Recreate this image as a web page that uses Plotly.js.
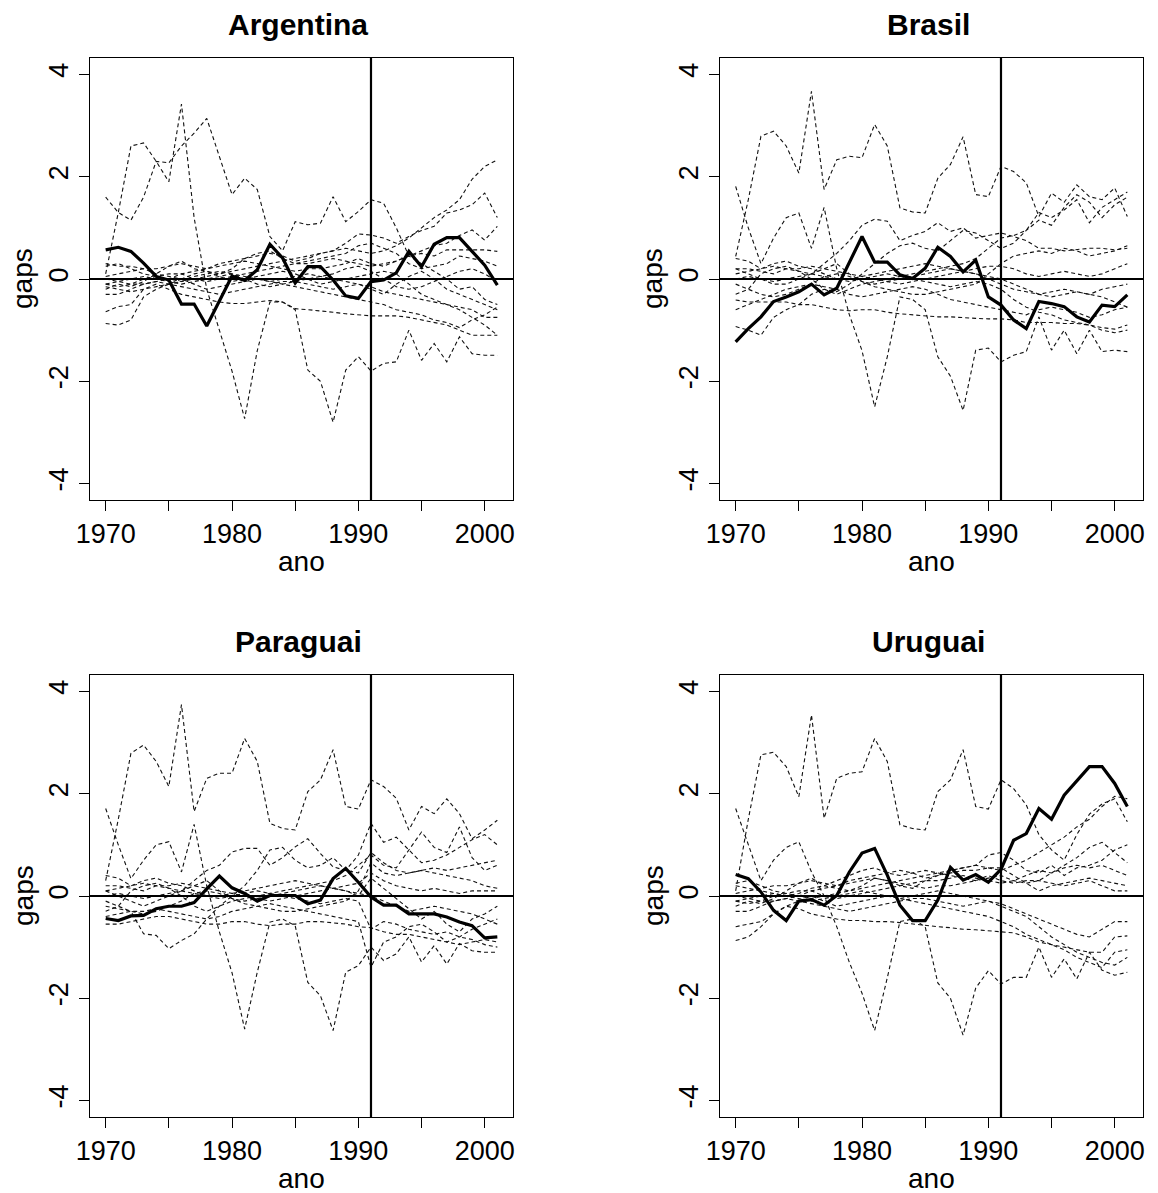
<!DOCTYPE html>
<html>
<head>
<meta charset="utf-8">
<script src="https://cdn.plot.ly/plotly-3.0.1.min.js"></script>
<style>html,body{margin:0;padding:0;background:#fff;}#chart{width:1158px;height:1193px;}</style>
</head>
<body>
<div id="chart"></div>
<script>
// ---------- DATA ----------
var years = [1970,1971,1972,1973,1974,1975,1976,1977,1978,1979,1980,1981,1982,1983,1984,1985,
             1986,1987,1988,1989,1990,1991,1992,1993,1994,1995,1996,1997,1998,1999,2000,2001];
var panelTitles = ["Argentina", "Brasil", "Paraguai", "Uruguai"];
var xTickVals = [1970,1975,1980,1985,1990,1995,2000];
var xTickText = ["1970","","1980","","1990","","2000"];
var yTickVals = [-4,-2,0,2,4];
var yTickText = ["-4","-2","0","2","4"];
var treatmentYear = 1991;

var gapArgentina = [0.57,0.62,0.54,0.31,0.05,-0.02,-0.49,-0.49,-0.92,-0.44,0.06,-0.03,0.18,0.68,0.41,-0.08,
                    0.24,0.24,-0.02,-0.33,-0.38,-0.05,-0.02,0.12,0.54,0.24,0.68,0.81,0.81,0.54,0.27,-0.12];
var gapBrasil = [-1.23,-0.97,-0.74,-0.44,-0.35,-0.25,-0.1,-0.31,-0.18,0.31,0.83,0.33,0.33,0.08,0.01,0.21,
                 0.62,0.44,0.14,0.37,-0.35,-0.51,-0.8,-0.97,-0.44,-0.48,-0.54,-0.74,-0.84,-0.51,-0.54,-0.31];
var gapParaguai = [-0.44,-0.48,-0.39,-0.38,-0.25,-0.2,-0.2,-0.13,0.14,0.39,0.16,0.05,-0.1,0.01,0.01,0.01,
                   -0.15,-0.08,0.34,0.54,0.27,-0.02,-0.18,-0.18,-0.35,-0.35,-0.35,-0.41,-0.51,-0.58,-0.82,-0.8];
var gapUruguai = [0.42,0.34,0.08,-0.28,-0.48,-0.1,-0.07,-0.18,0.01,0.47,0.84,0.93,0.41,-0.18,-0.48,-0.48,
                  -0.08,0.56,0.31,0.42,0.27,0.52,1.09,1.22,1.71,1.5,1.97,2.24,2.53,2.53,2.2,1.75];

var placeboArgentina = [
 [0.1,1.3,2.6,2.66,2.3,1.9,3.42,1.2,-0.2,-1.0,-1.8,-2.73,-1.4,-0.45,-0.45,-0.6,-1.78,-2.0,-2.8,-1.78,-1.52,-1.8,-1.65,-1.62,-1.0,-1.59,-1.26,-1.62,-1.13,-1.46,-1.49,-1.49],
 [1.6,1.3,1.15,1.6,2.3,2.27,2.6,2.85,3.14,2.4,1.65,1.97,1.75,0.83,0.55,1.12,1.06,1.09,1.61,1.12,1.32,1.55,1.48,1.0,0.45,0.3,0.15,0.0,-0.2,-0.15,-0.4,-0.5],
 [0.25,0.3,0.2,0.1,0.05,0.0,-0.05,0.0,0.05,0.1,0.15,0.2,0.25,0.3,0.35,0.4,0.45,0.5,0.55,0.6,0.55,0.5,0.55,0.65,0.8,1.0,1.2,1.35,1.55,1.95,2.2,2.33],
 [0.0,-0.05,-0.1,-0.1,-0.05,0.0,0.1,0.15,0.2,0.3,0.35,0.4,0.45,0.5,0.45,0.35,0.4,0.5,0.55,0.7,0.88,0.86,0.8,0.7,0.83,0.95,1.03,1.29,1.35,1.45,1.68,1.2],
 [-0.1,-0.15,-0.1,0.0,0.05,0.1,0.1,0.0,-0.05,0.0,0.05,0.1,0.15,0.2,0.25,0.3,0.3,0.35,0.4,0.35,0.3,0.25,0.3,0.35,0.45,0.55,0.65,0.7,0.85,0.96,0.76,1.03],
 [0.05,0.1,0.15,0.2,0.2,0.25,0.3,0.25,0.2,0.25,0.3,0.35,0.3,0.25,0.2,0.15,0.2,0.2,0.25,0.3,0.4,0.3,0.25,0.35,0.45,0.5,0.45,0.57,0.57,0.57,0.57,0.54],
 [-0.64,-0.54,-0.5,-0.2,-0.1,-0.2,-0.3,-0.35,-0.4,-0.45,-0.48,-0.48,-0.45,-0.42,-0.45,-0.58,-0.6,-0.62,-0.65,-0.68,-0.7,-0.72,-0.72,-0.72,-0.75,-0.8,-0.85,-0.9,-1.0,-1.1,-1.1,-1.1],
 [-0.87,-0.9,-0.8,-0.35,-0.2,-0.1,0.0,-0.1,-0.2,-0.15,-0.1,-0.05,0.0,-0.05,-0.1,-0.15,-0.2,-0.25,-0.3,-0.35,-0.4,-0.45,-0.5,-0.6,-0.65,-0.7,-0.8,-0.85,-0.95,-0.8,-0.7,-0.55],
 [-0.3,-0.3,-0.2,-0.1,-0.05,-0.1,-0.15,-0.2,-0.25,-0.3,-0.25,-0.2,-0.15,-0.1,-0.05,-0.05,-0.1,-0.15,-0.2,-0.15,-0.1,-0.15,-0.25,-0.3,-0.35,-0.4,-0.45,-0.5,-0.55,-0.6,-0.75,-0.75],
 [-0.1,-0.05,0.0,0.05,0.0,-0.05,-0.1,-0.05,0.0,0.05,0.1,0.05,0.0,-0.05,0.0,0.05,0.1,0.05,0.0,-0.05,-0.1,-0.2,-0.3,-0.1,0.05,0.15,0.0,-0.2,-0.3,-0.4,-0.5,-0.6],
 [-0.2,-0.1,-0.15,-0.05,0.1,0.25,0.35,0.2,0.15,0.1,0.2,0.4,0.5,0.55,0.4,0.3,0.35,0.4,0.45,0.5,0.65,0.7,0.6,0.5,0.3,0.2,0.25,0.3,0.45,0.4,0.35,0.25],
 [0.3,0.25,0.25,0.2,0.1,0.05,0.0,0.1,0.15,0.05,-0.05,0.0,0.05,0.1,0.15,0.1,0.0,-0.1,-0.05,0.0,0.05,0.1,0.15,0.1,-0.1,-0.3,-0.4,-0.5,-0.6,-0.75,-0.9,-1.1],
 [-0.15,-0.2,-0.25,-0.2,-0.15,-0.1,-0.05,0.05,0.1,0.15,0.1,0.0,-0.1,-0.15,-0.1,-0.05,0.0,0.05,0.1,0.2,0.25,0.15,0.0,-0.15,-0.2,-0.15,-0.05,0.05,0.15,0.2,0.1,-0.05]
];
var placeboBrasil = [
 [0.44,1.55,2.79,2.89,2.6,2.07,3.67,1.75,2.33,2.4,2.37,3.02,2.6,1.39,1.31,1.29,1.97,2.24,2.78,1.65,1.61,2.2,2.1,1.88,1.22,1.68,1.5,1.84,1.61,1.55,1.78,1.22],
 [1.81,1.0,0.3,0.8,1.2,1.29,0.6,1.4,0.2,-0.7,-1.4,-2.5,-1.52,-0.35,-0.4,-0.6,-1.52,-1.9,-2.57,-1.39,-1.35,-1.62,-1.49,-1.42,-0.74,-1.39,-1.0,-1.46,-1.0,-1.42,-1.39,-1.42],
 [-0.93,-1.0,-1.1,-0.75,-0.6,-0.5,-0.3,-0.2,-0.25,-0.1,0.1,0.3,0.5,0.65,0.7,0.6,0.55,0.75,0.95,0.9,0.75,0.6,0.7,0.95,1.15,1.05,1.4,1.65,1.5,1.2,1.45,1.6],
 [0.2,0.1,0.0,-0.1,-0.1,0.0,0.1,0.3,0.5,0.75,1.05,1.17,1.13,0.75,0.85,0.93,1.1,0.93,1.0,0.8,0.85,0.9,0.83,0.75,0.6,0.6,0.55,0.57,0.6,0.6,0.57,0.6],
 [-0.3,-0.2,0.1,0.2,0.25,0.15,0.0,-0.2,-0.3,-0.2,-0.1,-0.05,0.0,0.05,0.1,0.15,0.2,0.25,0.3,0.4,0.6,0.8,0.85,0.95,1.3,1.2,1.35,1.55,1.1,1.4,1.55,1.7],
 [0.4,0.35,0.2,0.3,0.35,0.25,0.2,0.1,0.0,0.0,0.05,0.1,0.15,0.2,0.25,0.3,0.25,0.2,0.15,0.1,0.0,-0.1,-0.2,-0.25,-0.3,-0.35,-0.3,-0.25,-0.3,-0.2,-0.15,-0.1],
 [-0.41,-0.45,-0.45,-0.45,-0.45,-0.5,-0.5,-0.55,-0.6,-0.62,-0.6,-0.6,-0.65,-0.68,-0.7,-0.72,-0.74,-0.74,-0.76,-0.77,-0.78,-0.78,-0.8,-0.85,-0.85,-0.85,-0.87,-0.87,-0.9,-0.95,-0.98,-0.9],
 [0.1,0.15,0.2,0.25,0.2,0.15,0.1,0.2,0.3,0.1,-0.05,-0.1,-0.05,0.0,0.05,0.1,0.15,0.2,0.15,0.1,0.05,0.0,-0.1,-0.2,-0.3,-0.25,-0.2,-0.25,-0.3,-0.35,-0.45,-0.55],
 [-0.1,-0.2,-0.3,-0.35,-0.3,-0.2,-0.1,0.05,0.1,0.05,-0.05,-0.15,-0.2,-0.25,-0.3,-0.3,-0.25,-0.2,-0.15,-0.1,0.1,0.3,0.45,0.5,0.55,0.5,0.6,0.55,0.45,0.5,0.55,0.65],
 [0.0,0.05,0.0,-0.05,0.0,0.05,0.1,0.05,0.0,-0.05,0.0,0.05,0.1,0.05,0.0,-0.05,-0.1,-0.15,-0.1,-0.05,-0.1,-0.2,-0.4,-0.55,-0.65,-0.7,-0.8,-0.85,-0.9,-1.0,-1.05,-1.0],
 [0.2,0.2,0.15,0.1,0.2,0.2,0.25,0.2,0.15,0.1,0.05,0.0,-0.05,-0.1,-0.05,0.0,0.05,0.1,0.15,0.2,0.25,0.25,0.2,0.1,0.05,0.1,0.15,0.1,0.05,0.1,0.2,0.3],
 [-0.6,-0.5,-0.4,-0.3,-0.2,-0.15,-0.1,-0.15,-0.2,-0.3,-0.35,-0.3,-0.25,-0.2,-0.15,-0.2,-0.3,-0.4,-0.45,-0.5,-0.55,-0.6,-0.65,-0.7,-0.6,-0.55,-0.6,-0.65,-0.75,-0.7,-0.6,-0.55]
];
var placeboParaguai = [
 [0.3,1.5,2.79,2.95,2.63,2.14,3.74,1.65,2.3,2.4,2.4,3.08,2.63,1.42,1.32,1.29,2.04,2.27,2.86,1.75,1.7,2.27,2.14,1.91,1.29,1.75,1.61,1.9,1.61,1.12,1.29,1.48],
 [1.71,1.0,0.34,0.7,1.0,1.06,0.47,1.4,0.2,-0.7,-1.5,-2.6,-1.49,-0.51,-0.45,-0.58,-1.69,-1.95,-2.63,-1.49,-1.36,-1.0,-1.26,-1.13,-0.8,-1.29,-0.97,-1.33,-0.93,-1.07,-1.1,-1.1],
 [-0.2,-0.25,-0.3,-0.74,-0.77,-1.03,-0.87,-0.74,-0.45,-0.2,0.0,0.2,0.5,0.9,0.95,0.7,0.55,0.6,0.75,0.5,0.8,1.42,1.05,1.15,0.9,0.65,0.7,0.8,0.95,1.1,1.2,1.0],
 [0.1,0.0,-0.1,-0.2,-0.1,0.0,0.1,0.3,0.5,0.6,0.86,0.93,0.93,0.6,0.75,0.96,1.12,0.83,0.57,0.5,0.45,0.85,0.65,0.5,0.45,0.5,0.55,0.5,0.55,0.6,0.65,0.7],
 [-0.3,-0.2,0.1,0.2,0.25,0.15,0.0,-0.2,-0.3,-0.2,-0.1,-0.05,0.0,0.05,0.1,0.15,0.2,0.25,0.3,0.4,0.6,0.8,0.6,0.55,0.9,1.25,0.95,0.85,1.35,0.75,0.5,0.6],
 [0.4,0.35,0.2,0.3,0.35,0.25,0.2,0.1,0.0,0.0,0.05,0.1,0.15,0.2,0.25,0.3,0.25,0.2,0.15,0.1,0.0,0.35,0.15,-0.05,-0.25,-0.45,-0.3,-0.55,-0.7,-0.45,-0.35,-0.2],
 [-0.55,-0.55,-0.5,-0.45,-0.4,-0.4,-0.45,-0.5,-0.55,-0.55,-0.5,-0.5,-0.55,-0.58,-0.55,-0.55,-0.5,-0.5,-0.52,-0.55,-0.6,-0.62,-0.7,-0.75,-0.75,-0.8,-0.85,-0.9,-0.95,-0.9,-0.85,-0.9],
 [0.1,0.15,0.2,0.25,0.2,0.15,0.1,0.2,0.3,0.1,-0.05,-0.1,-0.05,0.0,0.05,0.1,0.15,0.2,0.15,0.1,0.05,0.0,-0.1,-0.2,-0.3,-0.25,-0.2,-0.25,-0.3,-0.35,-0.45,-0.55],
 [-0.1,-0.2,-0.3,-0.35,-0.3,-0.2,-0.1,0.05,0.1,0.05,-0.05,-0.15,-0.2,-0.25,-0.3,-0.3,-0.25,-0.2,-0.15,-0.1,0.1,0.65,0.45,0.4,0.45,0.5,0.45,0.4,0.35,0.3,0.2,0.15],
 [0.0,0.05,0.0,-0.05,0.0,0.05,0.1,0.05,0.0,-0.05,0.0,0.05,0.1,0.05,0.0,-0.05,-0.1,-0.15,-0.1,-0.05,-0.1,-0.65,-0.5,-0.55,-0.65,-0.7,-0.75,-0.7,-0.8,-0.85,-0.95,-1.0],
 [0.2,0.2,0.15,0.1,0.2,0.2,0.25,0.2,0.15,0.1,0.05,0.0,-0.05,-0.1,-0.05,0.0,0.05,0.1,0.15,0.2,0.25,0.45,0.3,0.2,0.15,0.1,0.15,0.1,0.05,0.1,0.1,0.1],
 [-0.4,-0.35,-0.3,-0.3,-0.25,-0.3,-0.35,-0.4,-0.45,-0.4,-0.3,-0.25,-0.2,-0.15,-0.2,-0.25,-0.3,-0.35,-0.4,-0.45,-0.5,-1.39,-0.9,-0.8,-0.6,-0.55,-0.7,-0.9,-0.8,-0.65,-0.55,-0.45]
];
var placeboUruguai = [
 [0.1,1.5,2.76,2.81,2.53,1.94,3.54,1.52,2.3,2.4,2.43,3.08,2.63,1.39,1.32,1.29,2.04,2.27,2.86,1.75,1.7,2.27,2.1,1.78,1.2,0.9,0.7,1.2,1.6,1.8,1.9,1.45],
 [1.71,1.0,0.3,0.7,0.95,1.06,0.47,0.0,-0.6,-1.3,-1.9,-2.63,-1.6,-0.5,-0.45,-0.6,-1.7,-2.0,-2.72,-1.8,-1.46,-1.72,-1.59,-1.59,-1.0,-1.59,-1.23,-1.62,-1.1,-1.45,-1.55,-1.49],
 [0.25,0.3,0.2,0.1,0.05,0.0,-0.05,0.0,0.05,0.1,0.15,0.2,0.25,0.3,0.35,0.4,0.45,0.5,0.55,0.6,0.55,0.5,0.6,0.7,0.85,1.0,1.15,1.35,1.5,1.75,1.95,1.9],
 [0.0,-0.05,-0.1,-0.1,-0.05,0.0,0.1,0.15,0.2,0.3,0.35,0.4,0.45,0.5,0.45,0.35,0.4,0.5,0.55,0.6,0.8,0.85,0.7,0.5,0.45,0.6,0.4,0.55,0.6,0.7,0.9,1.0],
 [-0.1,-0.15,-0.1,0.0,0.05,0.1,0.1,0.0,-0.05,0.0,0.05,0.1,0.15,0.2,0.25,0.3,0.3,0.35,0.4,0.35,0.3,0.25,0.3,0.4,0.5,0.45,0.55,0.6,0.55,0.6,0.5,0.4],
 [0.05,0.1,0.15,0.2,0.2,0.25,0.3,0.25,0.2,0.25,0.3,0.35,0.3,0.25,0.2,0.15,0.2,0.2,0.25,0.3,0.4,0.3,0.25,0.3,0.3,0.25,0.2,0.25,0.3,0.2,0.1,0.1],
 [-0.87,-0.8,-0.6,-0.35,-0.2,-0.25,-0.35,-0.4,-0.45,-0.48,-0.48,-0.5,-0.5,-0.52,-0.55,-0.58,-0.6,-0.62,-0.65,-0.66,-0.68,-0.7,-0.72,-0.8,-0.9,-0.95,-1.0,-1.05,-1.1,-1.1,-0.8,-0.78],
 [-0.6,-0.55,-0.5,-0.35,-0.2,-0.1,0.0,-0.1,-0.2,-0.15,-0.1,-0.05,0.0,-0.05,-0.1,-0.15,-0.2,-0.25,-0.3,-0.35,-0.4,-0.5,-0.6,-0.75,-0.85,-0.95,-1.05,-1.2,-1.3,-1.4,-1.1,-1.05],
 [-0.3,-0.3,-0.2,-0.1,-0.05,-0.1,-0.15,-0.2,-0.25,-0.3,-0.25,-0.2,-0.15,-0.1,-0.05,-0.05,-0.1,-0.15,-0.2,-0.15,-0.1,-0.15,-0.25,-0.35,-0.45,-0.55,-0.65,-0.75,-0.8,-0.65,-0.5,-0.5],
 [-0.1,-0.05,0.0,0.05,0.0,-0.05,-0.1,-0.05,0.0,0.05,0.1,0.05,0.0,-0.05,0.0,0.05,0.1,0.05,0.0,-0.05,-0.1,-0.2,-0.3,-0.4,-0.6,-0.8,-0.95,-1.1,-1.2,-1.3,-1.35,-1.2],
 [0.2,0.15,0.1,0.05,0.0,0.05,0.15,0.2,0.3,0.4,0.5,0.55,0.45,0.4,0.45,0.5,0.45,0.4,0.35,0.3,0.35,0.4,0.3,0.25,0.3,0.45,0.6,0.75,0.95,1.05,0.85,0.65],
 [-0.2,-0.1,-0.15,-0.05,0.1,0.25,0.35,0.2,0.15,0.1,0.2,0.35,0.3,0.2,0.15,0.3,0.4,0.45,0.5,0.5,0.55,0.55,0.4,0.25,0.1,0.2,0.25,0.3,0.35,0.3,0.25,0.2]
];

// ---------- BUILD ----------
var W = 1158, H = 1193;
var treated = [gapArgentina, gapBrasil, gapParaguai, gapUruguai];
var placebos = [placeboArgentina, placeboBrasil, placeboParaguai, placeboUruguai];
// plot boxes in pixels: [left, right, top, bottom]
var boxes = [[90,513,58,500],[720,1143,58,500],[90,513,675,1117],[720,1143,675,1117]];
var FONT = "Liberation Sans, Arial, Helvetica, sans-serif";

var traces = [];
var layout = {
  width: W, height: H, margin: {l:0,r:0,t:0,b:0},
  paper_bgcolor: "#ffffff", plot_bgcolor: "#ffffff",
  showlegend: false, shapes: [], annotations: [],
  font: {family: FONT, color: "#000", size: 27}
};

for (var p = 0; p < 4; p++) {
  var sfx = p === 0 ? "" : String(p + 1);
  var xa = "x" + sfx, ya = "y" + sfx;
  var b = boxes[p];
  placebos[p].forEach(function (s) {
    traces.push({x: years, y: s, xaxis: xa, yaxis: ya, type: "scatter", mode: "lines",
      line: {color: "#111", width: 1.1, dash: "4px,3px"}, hoverinfo: "skip"});
  });
  traces.push({x: years, y: treated[p], xaxis: xa, yaxis: ya, type: "scatter", mode: "lines",
    line: {color: "#000", width: 3.2}, hoverinfo: "skip"});

  layout["xaxis" + sfx] = {
    domain: [b[0] / W, b[1] / W], anchor: ya, range: [1968.76, 2002.24],
    tickvals: xTickVals, ticktext: xTickText, ticks: "outside", ticklen: 10, tickwidth: 1,
    tickcolor: "#000", showline: true, mirror: true, linecolor: "#000", linewidth: 1,
    showgrid: false, zeroline: false, tickfont: {family: FONT, size: 27, color: "#000"}
  };
  layout["yaxis" + sfx] = {
    domain: [1 - b[3] / H, 1 - b[2] / H], anchor: xa, range: [-4.32, 4.32],
    tickvals: yTickVals, ticktext: yTickText, tickangle: -90, ticks: "outside", ticklen: 10, tickwidth: 1,
    tickcolor: "#000", showline: true, mirror: true, linecolor: "#000", linewidth: 1,
    showgrid: false, zeroline: false, tickfont: {family: FONT, size: 27, color: "#000"}
  };
  layout.shapes.push({type: "line", xref: xa + " domain", yref: ya, x0: 0, x1: 1, y0: 0, y1: 0,
    line: {color: "#000", width: 2}, layer: "above"});
  layout.shapes.push({type: "line", xref: xa, yref: ya + " domain", x0: treatmentYear, x1: treatmentYear, y0: 0, y1: 1,
    line: {color: "#000", width: 2.2}, layer: "above"});

  var cx = (b[0] + b[1]) / 2 / W;
  layout.annotations.push({text: "<b>" + panelTitles[p] + "</b>", xref: "paper", yref: "paper",
    x: cx - 3 / W, y: 1 - (b[2] - 34) / H, xanchor: "center", yanchor: "middle", showarrow: false,
    font: {family: FONT, size: 30, color: "#000"}});
  layout.annotations.push({text: "ano", xref: "paper", yref: "paper",
    x: cx, y: 1 - (b[3] + 61) / H, xanchor: "center", yanchor: "middle", showarrow: false,
    font: {family: FONT, size: 28, color: "#000"}});
  layout.annotations.push({text: "gaps", xref: "paper", yref: "paper", textangle: -90,
    x: (b[0] - 67) / W, y: 1 - ((b[2] + b[3]) / 2) / H, xanchor: "center", yanchor: "middle", showarrow: false,
    font: {family: FONT, size: 28, color: "#000"}});
}

Plotly.newPlot("chart", traces, layout, {staticPlot: true, displayModeBar: false});
</script>
</body>
</html>
